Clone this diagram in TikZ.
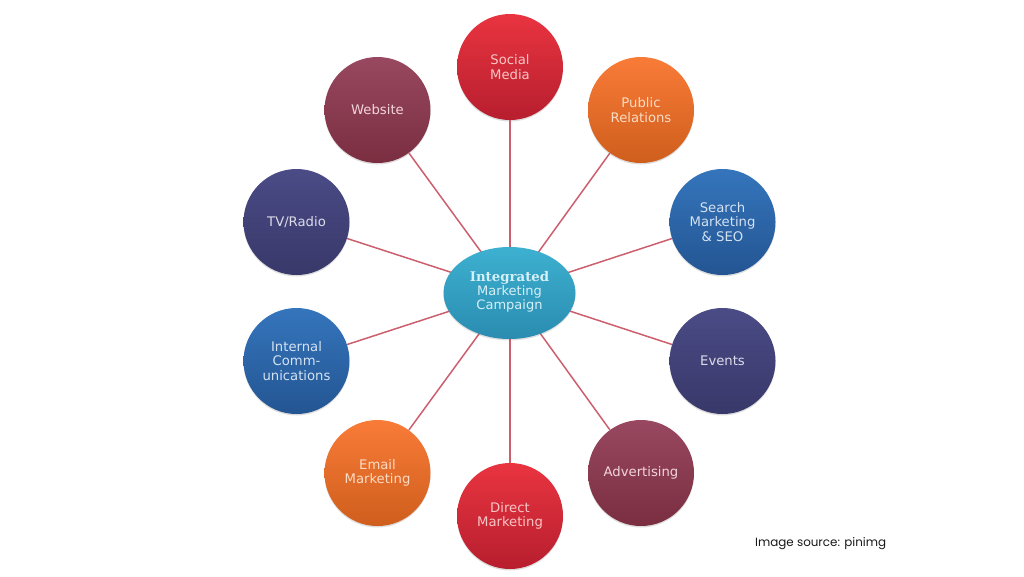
\documentclass[tikz,border=0pt]{standalone}
\usepackage{fontspec}
\setmainfont{DejaVu Sans}
\newfontfamily\creditfont{Poppins}
\usetikzlibrary{shapes.geometric,shadows}
\definecolor{linkc}{HTML}{CC5F6E}
\definecolor{red1t}{HTML}{E93440}\definecolor{red1b}{HTML}{B71E2E}\definecolor{red1x}{HTML}{F9C6C6}
\definecolor{or1t}{HTML}{F97B38}\definecolor{or1b}{HTML}{CF5E1C}\definecolor{or1x}{HTML}{FBDCC4}
\definecolor{bl1t}{HTML}{3575BC}\definecolor{bl1b}{HTML}{235592}\definecolor{bl1x}{HTML}{D5E2F2}
\definecolor{nv1t}{HTML}{4B4B86}\definecolor{nv1b}{HTML}{38386A}\definecolor{nv1x}{HTML}{DDDCEB}
\definecolor{wn1t}{HTML}{984860}\definecolor{wn1b}{HTML}{7A2E40}\definecolor{wn1x}{HTML}{F3D5DC}
\definecolor{hubt}{HTML}{3DB0D0}\definecolor{hubb}{HTML}{2A8CB0}\definecolor{hubx}{HTML}{D6F0F7}
\tikzset{
  x=1pt,y=-1pt,
  ball/.style={circle,minimum size=106pt,inner sep=0pt,align=center,font=\fontsize{13.2}{14.5}\selectfont,
     drop shadow={shadow xshift=0pt,shadow yshift=-1.5pt,opacity=.22,fill=black!60}},
  redball/.style={ball,top color=red1t,bottom color=red1b,text=red1x},
  orangeball/.style={ball,top color=or1t,bottom color=or1b,text=or1x},
  blueball/.style={ball,top color=bl1t,bottom color=bl1b,text=bl1x},
  navyball/.style={ball,top color=nv1t,bottom color=nv1b,text=nv1x},
  wineball/.style={ball,top color=wn1t,bottom color=wn1b,text=wn1x},
  hub/.style={ellipse,minimum width=132pt,minimum height=92pt,inner sep=0pt,
     top color=hubt,bottom color=hubb,text=hubx,font=\fontsize{13}{14.2}\selectfont,
     drop shadow={shadow xshift=0pt,shadow yshift=-1.5pt,opacity=.2,fill=black!60}},
  link/.style={draw=linkc,line width=1.5pt},
  credit/.style={font=\creditfont\fontsize{11.9}{13}\selectfont,text=black!90,inner sep=0pt}
}
\begin{document}
\begin{tikzpicture}
\useasboundingbox (0,0) rectangle (1024,576);
\node[redball] (social) at (510,67) {Social\\Media};
\node[orangeball] (pr) at (641,110) {Public\\Relations};
\node[blueball] (seo) at (722.5,222) {Search\\Marketing\\\& SEO};
\node[navyball] (events) at (722.5,361) {Events};
\node[wineball] (ads) at (641,473) {Advertising};
\node[redball] (direct) at (510,516) {Direct\\Marketing};
\node[orangeball] (email) at (377.5,473) {Email\\Marketing};
\node[blueball] (internal) at (296.5,361) {Internal\\Comm-\\unications};
\node[navyball] (tv) at (296.5,222) {TV/Radio};
\node[wineball] (web) at (377.5,110) {Website};
\coordinate (hubc) at (510,291.5);
\foreach \n in {social,pr,seo,events,ads,direct,email,internal,tv,web}
  \draw[link] (hubc) -- (\n);
\node[hub] (hub) at (509.5,293) {\raisebox{-2pt}[0pt][0pt]{\makebox[0pt]{\parbox[c]{90pt}{\centering
  {\fontspec{DejaVu Serif}\bfseries\fontsize{13.3}{14.2}\selectfont Integrated}\\Marketing\\Campaign}}}};
\node[credit,anchor=west] (src) at (755,544) {Image source: pinimg};
\end{tikzpicture}
\end{document}
